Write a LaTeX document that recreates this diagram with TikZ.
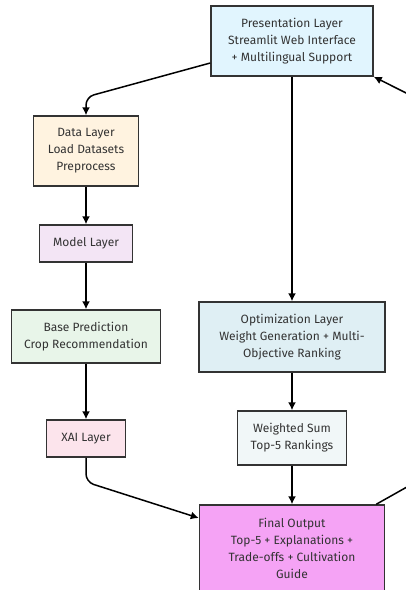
\documentclass[tikz,border=0pt]{standalone}
\usepackage{fontspec}
\setmainfont{Fira Sans}
\usetikzlibrary{arrows,arrows.meta}

\definecolor{txtgray}{HTML}{333333}
\definecolor{presblue}{HTML}{E1F5FE}
\definecolor{dataorange}{HTML}{FFF3E0}
\definecolor{modelpurple}{HTML}{F3E5F5}
\definecolor{basegreen}{HTML}{E8F5E9}
\definecolor{xaipink}{HTML}{FCE4EC}
\definecolor{optblue}{HTML}{DFEFF4}
\definecolor{wsumgray}{HTML}{F1F7F8}
\definecolor{finalviolet}{HTML}{F5A3F5}

\begin{document}
\begin{tikzpicture}[x=1pt,y=-1pt,
    layer/.style={draw=txtgray, line width=1.5pt, inner sep=0pt, align=center,
                  text=txtgray, font=\fontsize{12}{17}\selectfont},
    link/.style={-{Latex[length=8pt,width=8pt]}, line width=1.5pt, black, rounded corners=8pt}]
                \useasboundingbox (0,0) rectangle (406,590);
                \clip (0,0) rectangle (406,590);
                % boxes
                \node [layer, fill=presblue, minimum width=162pt, minimum height=70pt] (pres) at (292,41)
                    {Presentation Layer\\Streamlit Web Interface\\+ Multilingual Support};
                \node [layer, fill=dataorange, minimum width=105pt, minimum height=70pt] (data) at (86,151)
                    {Data Layer\\Load Datasets\\Preprocess};
                \node [layer, fill=modelpurple, minimum width=93pt, minimum height=37pt] (model) at (86,243.5)
                    {Model Layer};
                \node [layer, fill=basegreen, minimum width=149pt, minimum height=53pt] (base) at (86,336.5)
                    {Base Prediction\\Crop Recommendation};
                \node [layer, fill=xaipink, minimum width=79pt, minimum height=37pt] (xai) at (86,438.5)
                    {XAI Layer};
                \node [layer, fill=optblue, minimum width=186pt, minimum height=70pt] (opt) at (292,337)
                    {Optimization Layer\\Weight Generation + Multi-\\Objective Ranking};
                \node [layer, fill=wsumgray, minimum width=109pt, minimum height=54pt] (wsum) at (292,438)
                    {Weighted Sum\\Top-5 Rankings};
                \node [layer, fill=finalviolet, minimum width=185pt, minimum height=86pt] (final) at (292,548)
                    {Final Output\\Top-5 + Explanations +\\Trade-offs + Cultivation\\Guide};
                % loop ends outside the frame
                \coordinate (outlow) at (430,474);
                \coordinate (outhigh) at (440,110);
                % arrows
                \draw [link] ([yshift=-22pt]pres.west) -- (86,97) -- (data.north);
                \draw [link] (data) -- (model);
                \draw [link] (model) -- (base);
                \draw [link] (base) -- (xai);
                \draw [link] (pres) -- (opt);
                \draw [link] (opt) -- (wsum);
                \draw [link] (wsum) -- (final);
                \draw [link] (xai.south) -- (86,482) -- ([yshift=30pt]final.west);
                \draw [line width=1.5pt] ([xshift=-9pt]final.north east) -- (outlow);
                \draw [link] (outhigh) -- (pres.south east);
            \end{tikzpicture}
\end{document}
